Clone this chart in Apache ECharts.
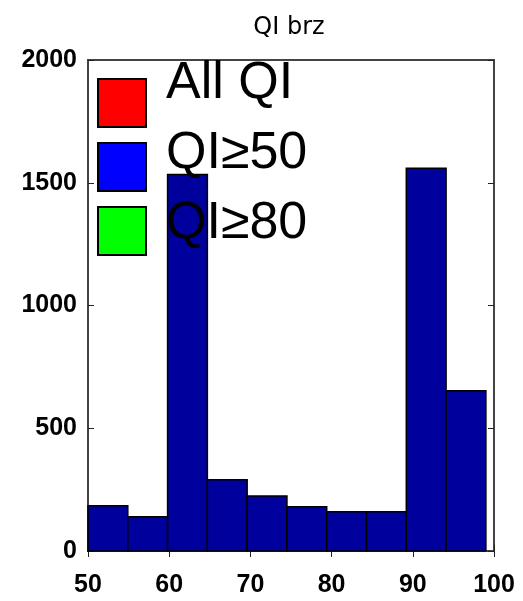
<!DOCTYPE html>
<html>
<head>
<meta charset="utf-8">
<script src="https://cdn.jsdelivr.net/npm/echarts@6/dist/echarts.min.js"></script>
<style>
  html, body { margin: 0; padding: 0; background: #fff; }
  #chart { width: 523px; height: 601px; }
</style>
</head>
<body>
<div id="chart"></div>
<script>
// Histogram bin edges (QI value) and counts per bin
const binEdges = [50, 54.9, 59.8, 64.7, 69.6, 74.5, 79.4, 84.3, 89.2, 94.1, 99];
const binCounts = [184, 140, 1534, 290, 224, 180, 160, 160, 1559, 653];

// Axis ticks
const xTicks = [50, 60, 70, 80, 90, 100];
const yTicks = [0, 500, 1000, 1500, 2000];

// Legend entries
const legendNames = ['All QI', 'QI\u226550', 'QI\u226580'];
const legendColors = ['#ff0000', '#0000ff', '#00ff00'];

const chartTitle = 'QI brz';

const barColor = '#00009c';
const fontFam = '"Liberation Sans", Arial, Helvetica, sans-serif';
const titleFam = '"DejaVu Sans", sans-serif';

const bins = binCounts.map((c, i) => [binEdges[i], binEdges[i + 1], c]);

const chart = echarts.init(document.getElementById('chart'), null, { renderer: 'canvas' });

const grid = { left: 88, right: 29, top: 60, bottom: 50 };

const graphics = [{
  type: 'text',
  z: 101,
  x: 289,
  y: 28,
  style: {
    text: chartTitle,
    fill: '#000',
    font: '24px ' + titleFam,
    align: 'center',
    verticalAlign: 'middle'
  }
}];
legendNames.forEach((name, i) => {
  graphics.push({
    type: 'rect',
    z: 100,
    shape: { x: 98, y: 79 + i * 64, width: 48, height: 48 },
    style: { fill: legendColors[i], stroke: '#000', lineWidth: 2 }
  });
  graphics.push({
    type: 'text',
    z: 101,
    x: 166,
    y: 84 + i * 70,
    style: {
      text: name,
      fill: '#000',
      font: '52px ' + fontFam,
      verticalAlign: 'middle'
    }
  });
});

const tickLabel = v => String(v);

const option = {
  animation: false,
  backgroundColor: '#fff',
  grid: Object.assign({ show: true, borderColor: '#444', borderWidth: 2, backgroundColor: '#fff' }, grid),
  xAxis: [
    {
      type: 'value', min: xTicks[0], max: xTicks[xTicks.length - 1], interval: 10,
      position: 'bottom',
      axisLine: { show: true, lineStyle: { color: '#444', width: 2 } },
      axisTick: { show: true, inside: true, length: 6, lineStyle: { color: '#222' } },
      axisLabel: { fontFamily: fontFam, fontSize: 25, fontWeight: 'bold', color: '#000', margin: 22, formatter: tickLabel },
      splitLine: { show: false }
    },
    {
      type: 'value', min: xTicks[0], max: xTicks[xTicks.length - 1], interval: 10,
      position: 'top',
      axisLine: { show: true, lineStyle: { color: '#444', width: 2 } },
      axisTick: { show: true, inside: true, length: 6, lineStyle: { color: '#222' } },
      axisLabel: { show: false },
      splitLine: { show: false }
    }
  ],
  yAxis: [
    {
      type: 'value', min: yTicks[0], max: yTicks[yTicks.length - 1], interval: 500,
      position: 'left',
      axisLine: { show: true, lineStyle: { color: '#444', width: 2 } },
      axisTick: { show: true, inside: true, length: 6, lineStyle: { color: '#222' } },
      axisLabel: { fontFamily: fontFam, fontSize: 25, fontWeight: 'bold', color: '#000', margin: 11, formatter: tickLabel },
      splitLine: { show: false }
    },
    {
      type: 'value', min: yTicks[0], max: yTicks[yTicks.length - 1], interval: 500,
      position: 'right',
      axisLine: { show: true, lineStyle: { color: '#444', width: 2 } },
      axisTick: { show: true, inside: true, length: 6, lineStyle: { color: '#222' } },
      axisLabel: { show: false },
      splitLine: { show: false }
    }
  ],
  series: [
    {
      type: 'custom',
      xAxisIndex: 0,
      yAxisIndex: 0,
      data: bins,
      encode: { x: [0, 1], y: 2 },
      renderItem: function (params, api) {
        const p0 = api.coord([api.value(0), api.value(2)]);
        const p1 = api.coord([api.value(1), 0]);
        return {
          type: 'rect',
          shape: { x: p0[0], y: p0[1], width: p1[0] - p0[0], height: p1[1] - p0[1] },
          style: { fill: barColor, stroke: '#000', lineWidth: 1.5 }
        };
      }
    }
  ],
  graphic: graphics
};

chart.setOption(option);
</script>
</body>
</html>
